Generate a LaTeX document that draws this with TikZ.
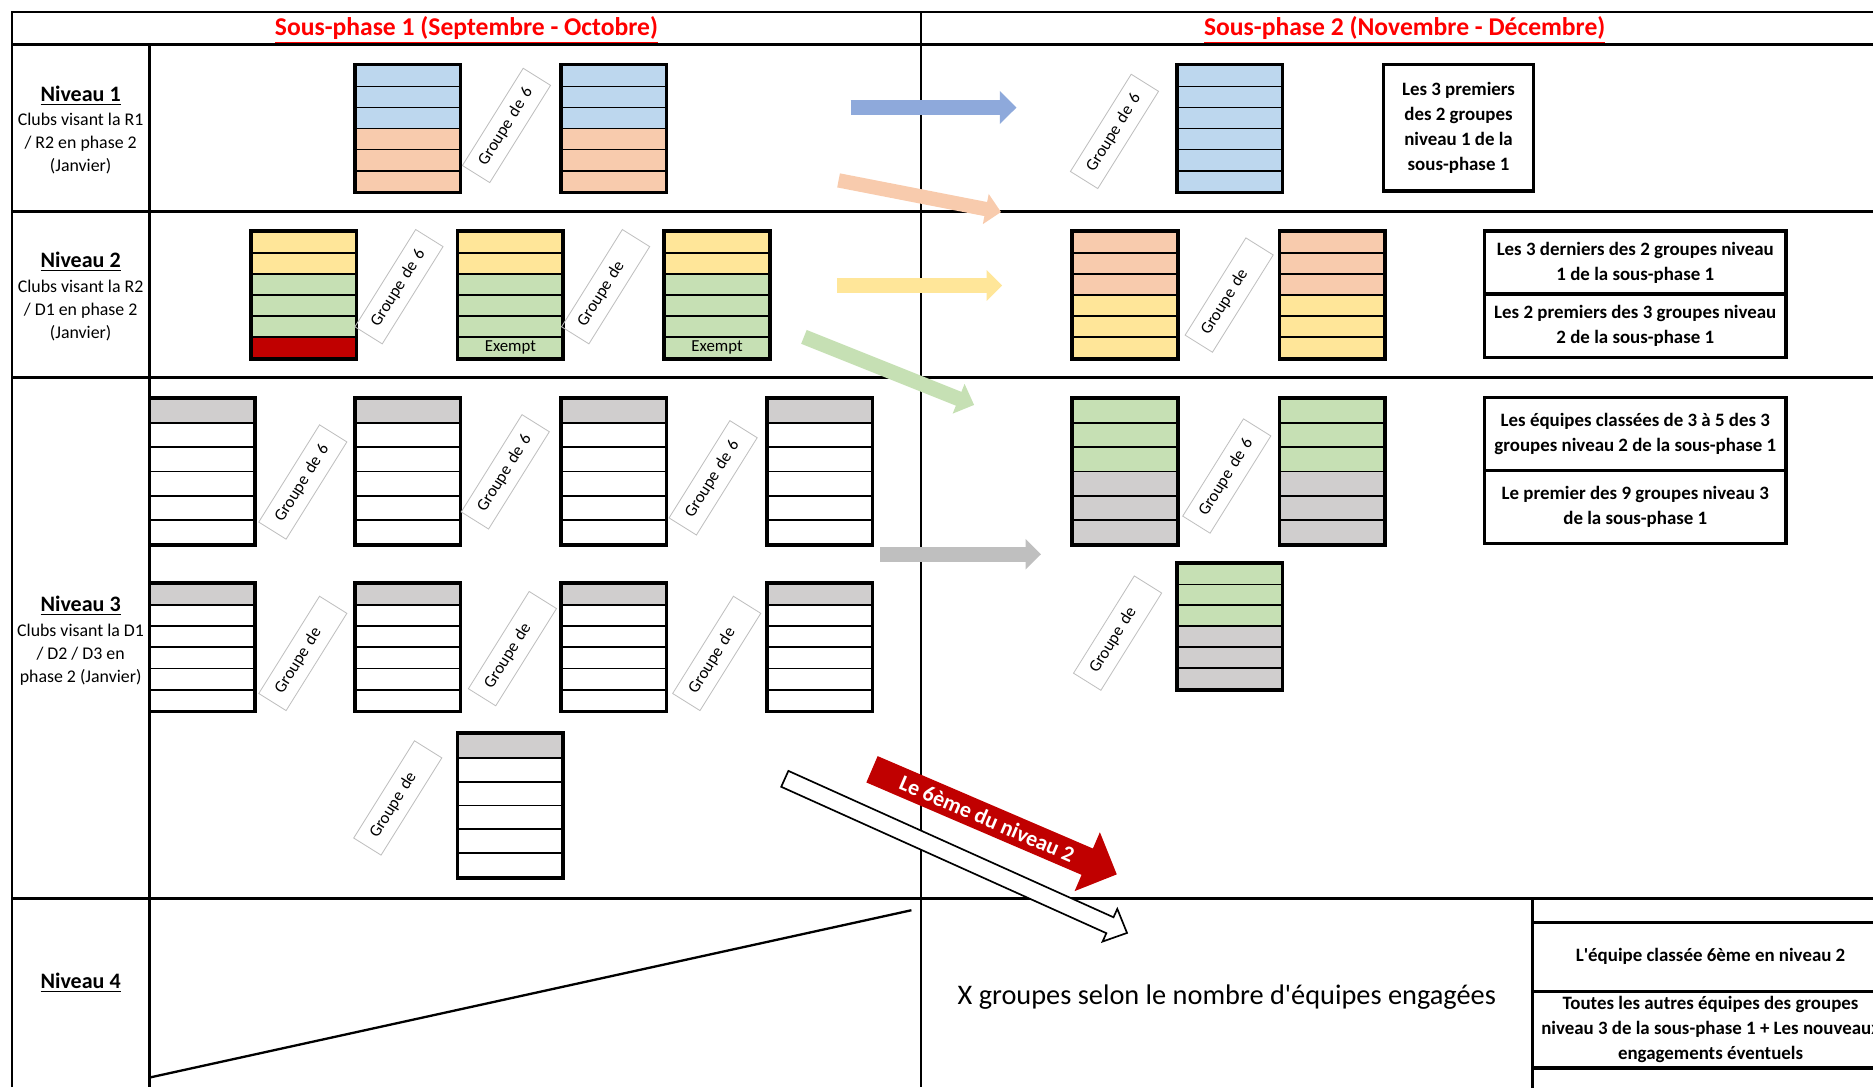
\documentclass[tikz,border=0pt]{standalone}
\usepackage{fontspec}
\setmainfont{Carlito}
\usetikzlibrary{arrows.meta,calc}
\definecolor{cblu}{HTML}{BDD7EE}
\definecolor{corg}{HTML}{F8CBAD}
\definecolor{cyel}{HTML}{FFE699}
\definecolor{cgrn}{HTML}{C6E0B4}
\definecolor{cgry}{HTML}{D0CECE}
\definecolor{cred}{HTML}{C00000}
\definecolor{ablu}{HTML}{8EA9DB}
\definecolor{agry}{HTML}{BFBFBF}

\begin{document}
\begin{tikzpicture}[
  x=0.2mm,y=-0.2mm,
  gridline/.style={line width=1.25pt},
  cell/.style={draw,line width=0.9pt,inner sep=0pt,minimum width=17.4mm,
               anchor=north west,font=\fontsize{8}{9}\selectfont},
  stackframe/.style={line width=1.6pt},
  tag/.style={draw=black!25,line width=0.4pt,rotate=58,inner xsep=2mm,inner ysep=0pt,
              minimum height=5.4mm,text width=15.2mm,align=left,
              font=\fontsize{8}{9}\selectfont},
  lvl/.style={font=\bfseries\fontsize{10.5}{12}\selectfont},
  desc/.style={align=center,font=\fontsize{8.5}{11.1}\selectfont},
  hdr/.style={text=red,font=\bfseries\fontsize{12.2}{14}\selectfont},
  note/.style={draw,line width=1.6pt,align=center,inner sep=0pt,
               font=\bfseries\fontsize{9}{12}\selectfont},
  flow/.style={-{Triangle[length=2.6mm,width=5mm]},line width=2.5mm},
]
\path[use as bounding box] (0,0) rectangle (1568,910);
\clip (0,0) rectangle (1568,910);

% table rules
\draw[gridline] (10,910) -- (10,10) -- (1600,10);
\foreach \yy in {37,177,316,752} \draw[gridline] (10,\yy) -- (1600,\yy);
\draw[gridline] (125,37) -- (125,910);
\draw[gridline] (771,10) -- (771,910);
\draw[gridline] (1283,752) -- (1283,910);

% headers
\node[hdr] (sp1) at (390.5,25) {\underline{Sous-phase 1 (Septembre - Octobre)}};
\node[hdr] (sp2) at (1176,25) {\underline{Sous-phase 2 (Novembre - Décembre)}};

% level column
\node[lvl] (lv1) at (67.5,80) {\underline{Niveau 1}};
\node[desc] (lv1d) at (67.5,120) {Clubs visant la R1\\/ R2 en phase 2\\(Janvier)};
\node[lvl] (lv2) at (67.5,219) {\underline{Niveau 2}};
\node[desc] (lv2d) at (67.5,260) {Clubs visant la R2\\/ D1 en phase 2\\(Janvier)};
\node[lvl] (lv3) at (67.5,507) {\underline{Niveau 3}};
\node[desc] (lv3d) at (67.5,548) {Clubs visant la D1\\/ D2 / D3 en\\phase 2 (Janvier)};
\node[lvl] (lv4) at (67.5,823) {\underline{Niveau 4}};

% group stacks: name/left/top/row height/colours/text of last row
\foreach \nm/\x/\y/\h/\cols/\lst in {
  n1a/297/54/17.6/{cblu,cblu,cblu,corg,corg,corg}/{},
  n1b/469.5/54/17.6/{cblu,cblu,cblu,corg,corg,corg}/{},
  n1c/985/54/17.6/{cblu,cblu,cblu,cblu,cblu,cblu}/{},
  n2a/210/193.5/17.6/{cyel,cyel,cgrn,cgrn,cgrn,cred}/{},
  n2b/383/193.5/17.6/{cyel,cyel,cgrn,cgrn,cgrn,cgrn}/Exempt,
  n2c/556/193.5/17.6/{cyel,cyel,cgrn,cgrn,cgrn,cgrn}/Exempt,
  n2d/897.5/193.5/17.6/{corg,corg,corg,cyel,cyel,cyel}/{},
  n2e/1071/193.5/17.6/{corg,corg,corg,cyel,cyel,cyel}/{},
  n3a/125/333/20.3/{cgry,white,white,white,white,white}/{},
  n3b/297/333/20.3/{cgry,white,white,white,white,white}/{},
  n3c/469.5/333/20.3/{cgry,white,white,white,white,white}/{},
  n3d/642/333/20.3/{cgry,white,white,white,white,white}/{},
  n3e/125/488/17.7/{cgry,white,white,white,white,white}/{},
  n3f/297/488/17.7/{cgry,white,white,white,white,white}/{},
  n3g/469.5/488/17.7/{cgry,white,white,white,white,white}/{},
  n3h/642/488/17.7/{cgry,white,white,white,white,white}/{},
  n3i/383/613.5/20/{cgry,white,white,white,white,white}/{},
  n3j/897.5/333/20.3/{cgrn,cgrn,cgrn,cgry,cgry,cgry}/{},
  n3k/1071/333/20.3/{cgrn,cgrn,cgrn,cgry,cgry,cgry}/{},
  n3l/985/471/17.5/{cgrn,cgrn,cgrn,cgry,cgry,cgry}/{}%
}{
  \foreach \col [count=\i] in \cols
    \node[cell,fill=\col,minimum height=\h*0.2mm] (\nm-\i) at (\x,{\y+(\i-1)*\h}) {\ifnum\i=6 \lst\fi};
  \draw[stackframe] (\nm-1.north west) rectangle (\nm-6.south east);
}

% group tags
\node[tag] (g1) at (424,105) {Groupe de 6};
\node[tag] (g2) at (933,110) {Groupe de 6};
\node[tag] (g3) at (334,240) {Groupe de 6};
\node[tag] (g4) at (507,240) {Groupe de};
\node[tag] (g5) at (1029,247) {Groupe de};
\node[tag] (g6) at (253.5,403.5) {Groupe de 6};
\node[tag] (g7) at (423,395) {Groupe de 6};
\node[tag] (g8) at (597,400) {Groupe de 6};
\node[tag] (g9) at (253.5,547) {Groupe de};
\node[tag] (g10) at (429,543) {Groupe de};
\node[tag] (g11) at (600,547) {Groupe de};
\node[tag] (g12) at (333,668) {Groupe de};
\node[tag] (g13) at (1027,398.5) {Groupe de 6};
\node[tag] (g14) at (935.6,530) {Groupe de};

% notes, sous-phase 2
\node[note,minimum width=25.2mm,minimum height=21.2mm] (t1) at (1221,107)
  {Les 3 premiers\\des 2 groupes\\niveau 1 de la\\sous-phase 1};
\node[note,minimum width=50.4mm,minimum height=10.5mm] (t2a) at (1369,219.75)
  {Les 3 derniers des 2 groupes niveau\\1 de la sous-phase 1};
\node[note,minimum width=50.4mm,minimum height=10.7mm] (t2b) at (1369,272.75)
  {Les 2 premiers des 3 groupes niveau\\2 de la sous-phase 1};
\node[note,minimum width=50.4mm,minimum height=12.2mm] (t3a) at (1369,363.5)
  {Les équipes classées de 3 à 5 des 3\\groupes niveau 2 de la sous-phase 1};
\node[note,minimum width=50.4mm,minimum height=12.2mm] (t3b) at (1369,424.5)
  {Le premier des 9 groupes niveau 3\\de la sous-phase 1};

% level 4
\coordinate (d0) at (125.5,902);
\coordinate (d1) at (763,762);
\draw[line width=1.1pt] (d0) -- (d1);
\node[font=\fontsize{13.5}{16}\selectfont] (xg) at (1027,835)
  {X groupes selon le nombre d\textquotesingle équipes engagées};
\node[note,minimum width=59.6mm,minimum height=4mm] (r4a) at (1432,762) {};
\node[note,minimum width=59.6mm,minimum height=11.6mm] (r4b) at (1432,801)
  {L\textquotesingle équipe classée 6ème en niveau 2};
\node[note,minimum width=59.6mm,minimum height=12.8mm] (r4c) at (1432,862)
  {Toutes les autres équipes des groupes\\niveau 3 de la sous-phase 1 + Les nouveaux\\engagements éventuels};
\node[note,minimum width=59.6mm,minimum height=13.2mm] (r4d) at (1432,927) {};

% arrows between sous-phases
\coordinate (bl0) at (712,90);    \coordinate (bl1) at (851,90);
\coordinate (or0) at (702,151);   \coordinate (or1) at (838,177.5);
\coordinate (ye0) at (700.5,239); \coordinate (ye1) at (839,239);
\coordinate (gr0) at (673,282);   \coordinate (gr1) at (815.5,339);
\coordinate (gy0) at (737,464);   \coordinate (gy1) at (871.5,464);
\coordinate (rd0) at (730,644);   \coordinate (rd1) at (935,732);
\coordinate (wt0) at (657,652);   \coordinate (wt1) at (943.5,781);
\draw[flow,ablu,line width=2.6mm,-{Triangle[length=2.8mm,width=5.4mm]}] (bl0) -- (bl1);
\draw[flow,corg,line width=2.4mm] (or0) -- (or1);
\draw[flow,cyel,line width=2.4mm] (ye0) -- (ye1);
\draw[flow,cgrn,-{Triangle[length=2.8mm,width=5.2mm]}] (gr0) -- (gr1);
\draw[flow,agry] (gy0) -- (gy1);
\coordinate (wth) at ($(wt1)!3.14mm!(wt0)$);
\draw[line width=0.8pt,fill=white,line join=miter]
  ($(wt0)!1.46mm!90:(wt1)$) -- ($(wth)!1.46mm!90:(wt1)$) -- ($(wth)!3mm!90:(wt1)$)
  -- (wt1) -- ($(wth)!3mm!-90:(wt1)$) -- ($(wth)!1.46mm!-90:(wt1)$)
  -- ($(wt0)!1.46mm!-90:(wt1)$) -- cycle;
\draw[flow,cred,line width=4.8mm,-{Triangle[length=5.4mm,width=10.4mm]}] (rd0) --
  node[sloped,pos=0.47,text=white,font=\bfseries\fontsize{10.5}{12}\selectfont]
  {Le 6ème du niveau 2} (rd1);
\end{tikzpicture}
\end{document}
